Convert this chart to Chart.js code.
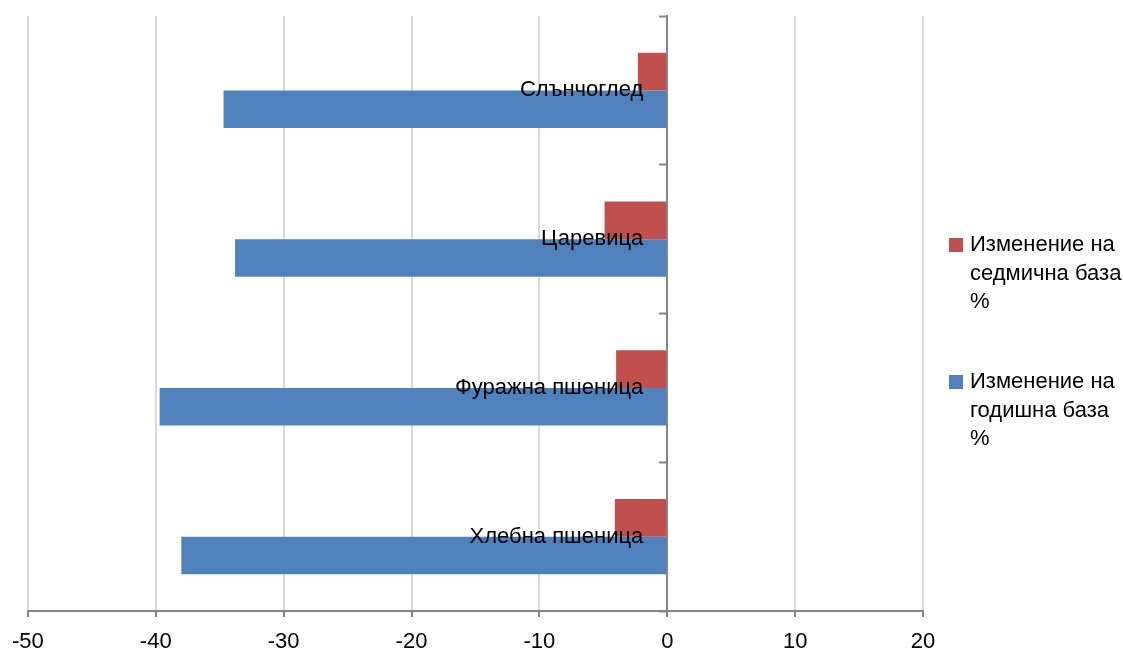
<!DOCTYPE html>
<html>
<head>
<meta charset="utf-8">
<script src="https://cdn.jsdelivr.net/npm/chart.js@4.4.1/dist/chart.umd.min.js"></script>
<style>
    html, body { margin: 0; padding: 0; background: #fff; }
    #contenedor { width: 1123px; height: 654px; }
</style>
</head>
<body>
<div id="contenedor"><canvas id="graficoCambios"></canvas></div>
<script>
// Datos
const categorias = ['Слънчоглед', 'Царевица', 'Фуражна пшеница', 'Хлебна пшеница'];
const cambioSemanal = [-2.3, -4.9, -4.0, -4.1];
const cambioAnual = [-34.7, -33.8, -39.7, -38.0];
const nombresSeries = ['Изменение на седмична база %', 'Изменение на годишна база %'];
const marcasX = [-50, -40, -30, -20, -10, 0, 10, 20];

const fuente = '"Liberation Sans", Arial, sans-serif';
const tamFuente = 22;
const gris = '#868686';

// Parte el texto en líneas que quepan en el ancho dado
function partirTexto(ctx, texto, ancho) {
    const palabras = texto.split(' ');
    const lineas = [];
    let actual = '';
    palabras.forEach(p => {
        const prueba = actual ? actual + ' ' + p : p;
        if (ctx.measureText(prueba).width > ancho && actual) {
            lineas.push(actual);
            actual = p;
        } else {
            actual = prueba;
        }
    });
    if (actual) lineas.push(actual);
    return lineas;
}

// Leyenda a la derecha con texto en varias líneas
const leyenda = {
    id: 'leyenda',
    afterDraw(chart) {
        const ctx = chart.ctx;
        ctx.save();
        ctx.font = tamFuente + 'px ' + fuente;
        ctx.textBaseline = 'middle';
        const x0 = chart.chartArea.right + 26;
        let y = 245;
        chart.data.datasets.forEach(ds => {
            const lineas = partirTexto(ctx, ds.label, 160);
            ctx.fillStyle = ds.backgroundColor;
            ctx.fillRect(x0, y - 7, 14, 14);
            ctx.fillStyle = '#000';
            lineas.forEach((l, i) => ctx.fillText(l, x0 + 21, y + i * 28.5));
            y += 137;
        });
        ctx.restore();
    }
};

// Las etiquetas del eje en x=0 quedan pegadas al eje: se separan un poco
const separarEtiquetas = {
    id: 'separarEtiquetas',
    beforeDraw(chart) {
        const items = chart.scales.y.getLabelItems();
        if (items._movidas) return;
        items.forEach(it => { it.options.translation[0] -= 24; });
        items._movidas = true;
    }
};

const ctx = document.getElementById('graficoCambios').getContext('2d');

const chart = new Chart(ctx, {
    type: 'bar',
    data: {
        labels: categorias,
        datasets: [{
            label: nombresSeries[0],
            data: cambioSemanal,
            backgroundColor: '#C0504D',
            borderWidth: 0
        }, {
            label: nombresSeries[1],
            data: cambioAnual,
            backgroundColor: '#4F81BD',
            borderWidth: 0
        }]
    },
    options: {
        indexAxis: 'y',
        responsive: true,
        maintainAspectRatio: false,
        animation: false,
        categoryPercentage: 0.505,
        barPercentage: 1.0,
        layout: {
            padding: { left: 27, right: 200, top: 16, bottom: 0 }
        },
        scales: {
            x: {
                min: marcasX[0],
                max: marcasX[marcasX.length - 1],
                afterBuildTicks: (escala) => {
                    escala.ticks = marcasX.map(v => ({ value: v }));
                },
                afterFit: (escala) => {
                    escala.height = 43;
                },
                grid: {
                    color: '#d9d9d9',
                    lineWidth: 2,
                    tickColor: gris,
                    tickLength: 6,
                    tickWidth: 2
                },
                border: { color: gris, width: 2 },
                ticks: {
                    color: '#000',
                    padding: 12,
                    font: { family: fuente, size: tamFuente }
                }
            },
            y: {
                position: { x: 0 },
                afterFit: (escala) => {
                    escala.paddingTop = 0;
                    escala.paddingBottom = 0;
                },
                grid: {
                    drawOnChartArea: false,
                    tickColor: gris,
                    tickLength: 7,
                    tickWidth: 2,
                    z: 1
                },
                border: { color: gris, width: 2, z: 1 },
                ticks: {
                    color: '#000',
                    z: 1,
                    font: { family: fuente, size: tamFuente }
                }
            }
        },
        plugins: {
            legend: { display: false },
            tooltip: { enabled: false }
        }
    },
    plugins: [leyenda, separarEtiquetas]
});
</script>
</body>
</html>
